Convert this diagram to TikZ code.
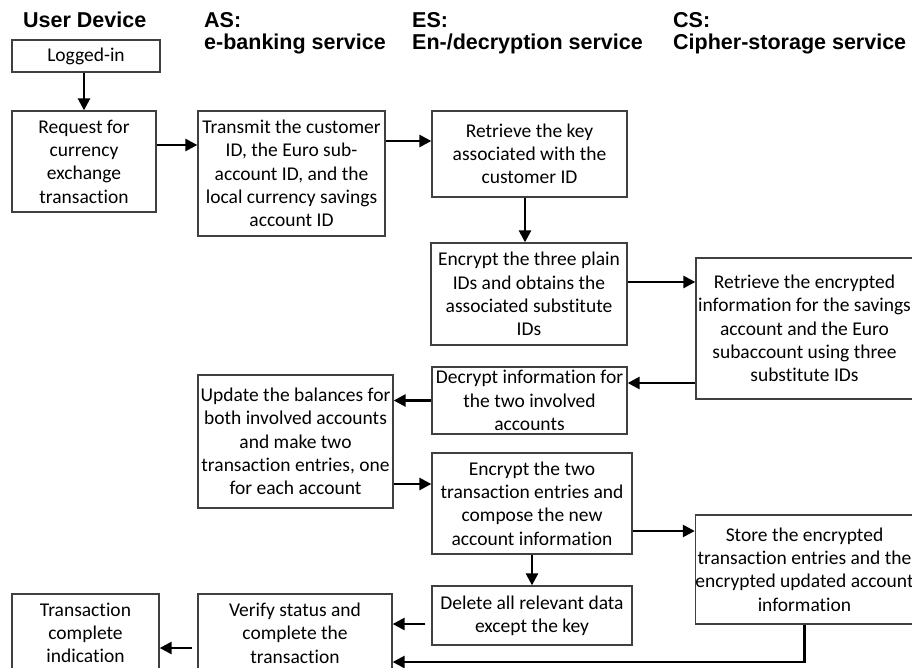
\documentclass[tikz,border=0pt]{standalone}
\usepackage{fontspec}
\setmainfont{Carlito}[Ligatures={NoCommon,NoRare}]
\newfontfamily\headfont{Liberation Sans}
\usetikzlibrary{arrows.meta}
\definecolor{boxgray}{RGB}{64,64,64}
\begin{document}
\begin{tikzpicture}[x=1pt,y=-1pt,
  stepbox/.style={draw=boxgray, line width=1.3pt, inner sep=0pt, align=center,
    font=\fontsize{19.5}{23.3}\selectfont, text=black},
  head/.style={anchor=base west, inner sep=0pt,
    font=\headfont\bfseries\fontsize{21.5}{22}\selectfont},
  arr/.style={line width=2.6pt, -{Triangle[length=12pt,width=12pt]}}
]
\useasboundingbox (0,0) rectangle (912,668);
\clip (0,0) rectangle (912,668);

% column headings
\node[head] (hud)  at (23,28)  {User Device};
\node[head] (has)  at (204,28) {AS:};
\node[head] (hasn) at (204,50) {e-banking service};
\node[head] (hes)  at (412,28) {ES:};
\node[head] (hesn) at (412,50) {En-/decryption service};
\node[head] (hcs)  at (673,28) {CS:};
\node[head] (hcsn) at (673,50) {Cipher-storage service};

% process steps
\node[stepbox, minimum width=148pt, minimum height=32pt] (login) at (86,56) {Logged-in};
\node[stepbox, minimum width=144pt, minimum height=101pt] (req) at (84,161.5)
  {Request for\\currency\\exchange\\transaction};
\node[stepbox, minimum width=187pt, minimum height=125pt] (trans) at (291.5,173.5)
  {Transmit the customer\\ID, the Euro sub-\\account ID, and the\\local currency savings\\account ID};
\node[stepbox, minimum width=195pt, minimum height=86pt] (key) at (529.5,154)
  {Retrieve the key\\associated with the\\customer ID};
\node[stepbox, minimum width=196pt, minimum height=102pt] (enc3) at (529,294)
  {Encrypt the three plain\\IDs and obtains the\\associated substitute\\IDs};
\node[stepbox, minimum width=217pt, minimum height=141pt] (ret) at (804.5,328.5)
  {Retrieve the encrypted\\information for the savings\\account and the Euro\\subaccount using three\\substitute IDs};
\node[stepbox, minimum width=195pt, minimum height=67pt] (dec) at (529.5,400.5)
  {Decrypt information for\\the two involved\\accounts};
\node[stepbox, minimum width=195pt, minimum height=133pt] (upd) at (295.5,441.5)
  {Update the balances for\\both involved accounts\\and make two\\transaction entries, one\\for each account};
\node[stepbox, minimum width=200pt, minimum height=101pt] (enc2) at (532,503.5)
  {Encrypt the two\\transaction entries and\\compose the new\\account information};
\node[stepbox, minimum width=217pt, minimum height=109pt] (store) at (804.5,569.5)
  {Store the encrypted\\transaction entries and the\\encrypted updated account\\information};
\node[stepbox, minimum width=200pt, minimum height=59pt] (del) at (532,615.5)
  {Delete all relevant data\\except the key};
\node[stepbox, minimum width=194pt, minimum height=78pt] (verify) at (295,633)
  {Verify status and\\complete the\\transaction};
\node[stepbox, minimum width=147pt, minimum height=78pt] (tc) at (85.5,633)
  {Transaction\\complete\\indication};

% flow
\draw[arr] (req.north |- login.south) -- (req.north);
\draw[arr] ([yshift=16.5pt]req.east) -- ([yshift=16.5pt]req.east -| trans.west);
\draw[arr] ([yshift=32.5pt]trans.east) -- ([yshift=32.5pt]trans.east -| key.west);
\draw[arr] ([xshift=-4.5pt]key.south) -- ([xshift=-4.5pt]key.south |- enc3.north);
\draw[arr] ([yshift=12pt]enc3.east) -- ([yshift=12pt]enc3.east -| ret.west);
\draw[arr] ([yshift=-54.5pt]ret.west) -- ([yshift=-54.5pt]ret.west -| dec.east);
\draw[arr] (dec.west) -- (dec.west -| upd.east);
\draw[arr] ([yshift=-42.5pt]upd.east) -- ([yshift=-42.5pt]upd.east -| enc2.west);
\draw[arr] ([yshift=-27.5pt]enc2.east) -- ([yshift=-27.5pt]enc2.east -| store.west);
\draw[arr] (enc2.south) -- (del.north);
\draw[arr, shorten <=6pt] ([yshift=-8.5pt]del.west) -- ([yshift=-8.5pt]del.west -| verify.east);
\draw[arr] (store.south) |- ([yshift=-29pt]verify.east);
\draw[arr, shorten <=5pt] ([yshift=-15pt]verify.west) -- ([yshift=-15pt]verify.west -| tc.east);
\end{tikzpicture}
\end{document}
